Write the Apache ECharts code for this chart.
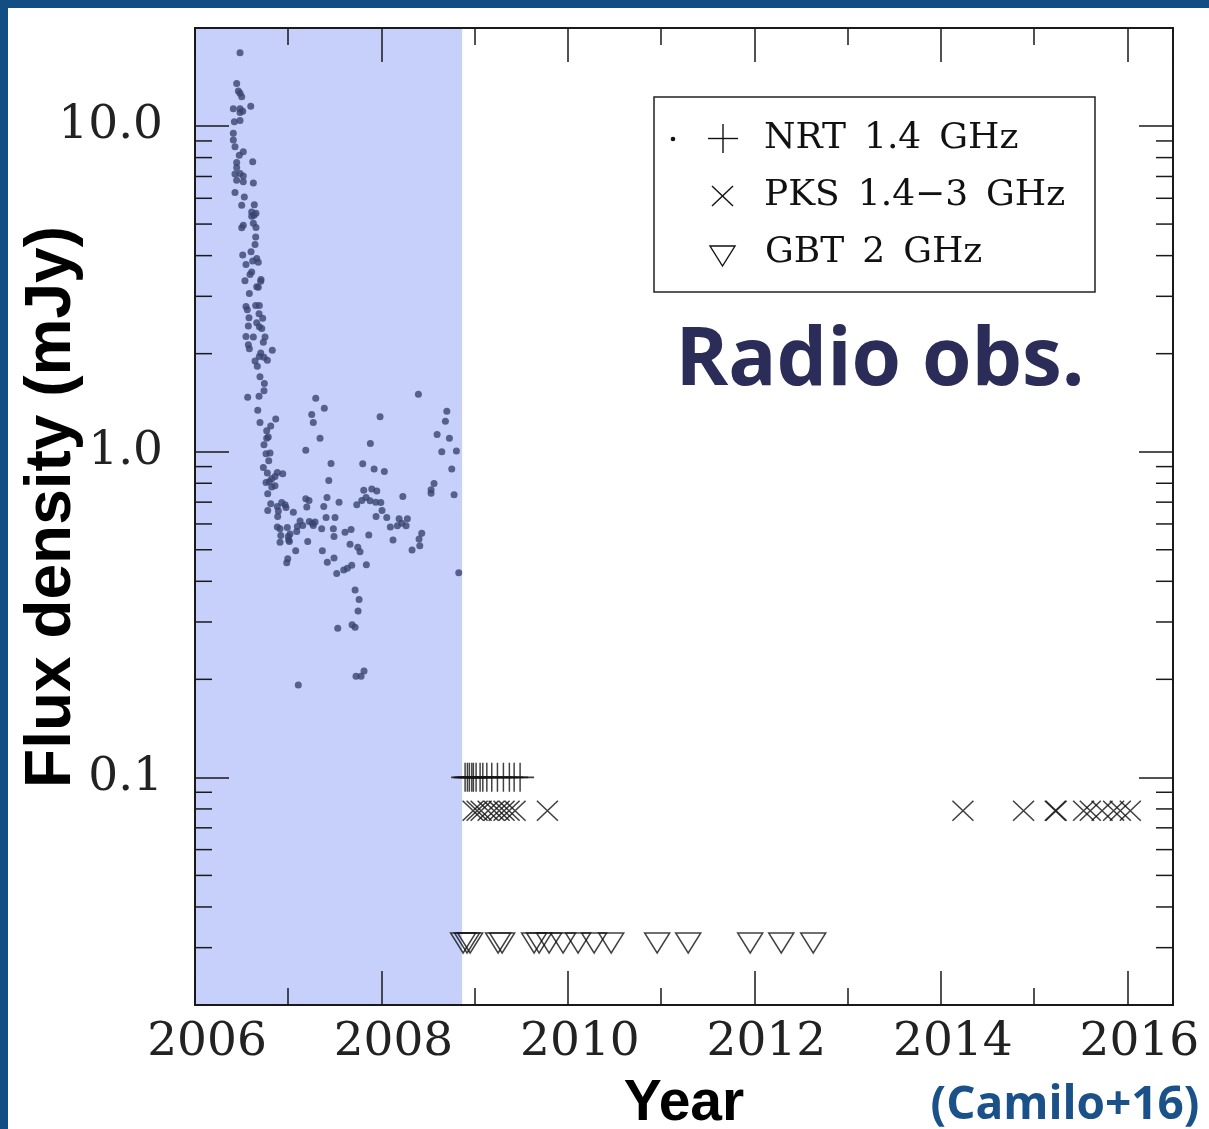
<!DOCTYPE html>
<html>
<head>
<meta charset="utf-8">
<title>Radio observations – flux density vs year</title>
<script src="https://cdn.jsdelivr.net/npm/echarts@6/dist/echarts.min.js"></script>
<style>
  html, body { margin: 0; padding: 0; background: #ffffff; }
  #chart { width: 1209px; height: 1129px; }
</style>
</head>
<body>
<div id="chart"></div>
<script>
// NRT 1.4 GHz detections: [decimal year, flux density in mJy]
const nrtDetections = [
  [2006.483,16.8],[2006.447,13.5],[2006.465,12.8],[2006.483,12.6],[2006.501,12.3],[2006.411,11.3],[2006.483,11.3],[2006.512,11.1],[2006.483,11.0],[2006.598,11.5],
  [2006.422,10.3],[2006.483,10.4],[2006.411,9.5],[2006.411,9.06],[2006.429,8.64],[2006.475,8.14],[2006.518,8.34],[2006.619,7.77],[2006.447,7.73],[2006.447,7.46],
  [2006.429,7.12],[2006.483,7.15],[2006.518,7.03],[2006.447,6.82],[2006.518,6.74],[2006.626,6.68],[2006.429,6.25],[2006.529,6.06],[2006.501,5.71],[2006.636,5.73],
  [2006.608,5.45],[2006.654,5.40],[2006.608,5.28],[2006.633,5.32],[2006.518,4.96],[2006.501,4.87],[2006.626,5.03],[2006.654,4.88],[2006.651,4.56],[2006.644,4.33],
  [2006.512,4.02],[2006.601,4.11],[2006.662,3.92],[2006.619,3.85],[2006.679,3.82],[2006.547,3.76],[2006.608,3.56],[2006.590,3.50],[2006.708,3.38],[2006.536,3.35],
  [2006.705,3.34],[2006.679,3.20],[2006.662,3.21],[2006.583,3.06],[2006.547,2.79],[2006.561,2.73],[2006.651,2.81],[2006.690,2.81],[2006.687,2.65],[2006.579,2.58],
  [2006.726,2.57],[2006.662,2.49],[2006.690,2.42],[2006.716,2.39],[2006.572,2.43],[2006.547,2.26],[2006.626,2.25],[2006.751,2.25],[2006.733,2.17],[2006.572,2.13],
  [2006.583,2.07],[2006.829,2.05],[2006.705,2.01],[2006.690,1.96],[2006.644,1.90],[2006.740,1.95],[2006.776,1.91],[2006.668,1.83],[2006.697,1.70],[2006.744,1.62],
  [2006.740,1.54],[2006.565,1.47],[2006.687,1.48],[2007.295,1.46],[2007.387,1.36],[2006.673,1.34],[2007.252,1.30],[2007.269,1.23],[2006.866,1.26],[2006.697,1.23],
  [2006.812,1.20],[2006.769,1.16],[2006.786,1.11],[2006.769,1.10],[2007.341,1.10],[2006.740,1.05],[2007.188,1.01],[2006.762,0.986],[2006.805,0.99],[2006.791,0.938],
  [2007.459,0.92],[2006.733,0.895],[2006.776,0.860],[2006.883,0.864],[2006.941,0.856],[2006.858,0.839],[2006.823,0.826],[2006.762,0.804],[2006.858,0.786],[2006.823,0.779],
  [2006.797,0.810],[2007.435,0.816],[2006.780,0.743],[2007.188,0.717],[2007.223,0.708],[2007.199,0.676],[2007.416,0.723],[2007.545,0.700],[2006.812,0.692],[2006.780,0.660],
  [2006.883,0.679],[2006.930,0.698],[2006.966,0.687],[2006.976,0.674],[2006.894,0.658],[2006.887,0.632],[2007.055,0.652],[2007.381,0.679],[2007.406,0.628],[2007.502,0.628],
  [2007.127,0.613],[2007.156,0.593],[2007.098,0.589],[2007.226,0.610],[2007.259,0.603],[2007.288,0.608],[2007.269,0.593],[2007.359,0.580],[2007.484,0.580],[2006.883,0.587],
  [2006.912,0.580],[2006.990,0.585],[2007.019,0.559],[2007.001,0.549],[2006.920,0.553],[2007.091,0.569],[2007.005,0.536],[2006.912,0.527],[2007.491,0.549],[2007.209,0.530],
  [2007.080,0.496],[2007.366,0.496],[2007.419,0.458],[2007.491,0.472],[2006.995,0.469],[2006.984,0.456],[2007.520,0.423],[2007.012,0.530],[2007.531,0.287],[2007.108,0.192],
  [2008.396,1.50],[2007.985,1.28],[2008.701,1.33],[2008.686,1.24],[2008.597,1.13],[2008.729,1.10],[2008.647,1.00],[2008.804,1.005],[2007.881,1.06],[2007.799,0.918],
  [2007.921,0.885],[2008.031,0.870],[2008.754,0.885],[2008.564,0.799],[2008.532,0.764],[2008.532,0.746],[2007.810,0.762],[2007.896,0.768],[2007.950,0.757],[2008.229,0.729],
  [2008.779,0.737],[2007.835,0.723],[2007.789,0.708],[2007.735,0.687],[2007.878,0.707],[2007.939,0.700],[2007.993,0.698],[2008.006,0.660],[2007.942,0.632],[2008.057,0.628],
  [2008.189,0.622],[2008.278,0.622],[2008.218,0.603],[2008.171,0.592],[2008.264,0.592],[2008.095,0.587],[2007.609,0.566],[2007.674,0.577],[2007.864,0.555],[2008.432,0.562],
  [2008.403,0.539],[2008.411,0.514],[2008.328,0.499],[2008.124,0.536],[2007.663,0.520],[2007.746,0.509],[2007.770,0.493],[2007.681,0.448],[2007.634,0.439],[2007.595,0.433],
  [2007.838,0.450],[2008.829,0.425],[2007.717,0.376],[2007.760,0.352],[2007.749,0.324],[2007.685,0.294],[2007.717,0.289],[2007.727,0.2045],[2007.781,0.2045],[2007.813,0.212]
];

// Non-detections (upper limits) – epochs per telescope and the limit in mJy
const nrtLimitYears = [2008.897, 2008.922, 2008.943, 2008.969, 2008.986, 2009.015, 2009.058, 2009.087,
                       2009.130, 2009.183, 2009.244, 2009.308, 2009.372, 2009.423, 2009.487];
const nrtLimit = 0.1;

const pksLimitYears = [2008.983, 2009.026, 2009.069, 2009.144, 2009.208, 2009.262, 2009.315, 2009.369,
                       2009.433, 2009.780, 2014.237, 2014.887, 2015.227, 2015.237, 2015.531, 2015.603,
                       2015.729, 2015.853, 2015.925, 2016.032];
const pksLimit = 0.079;

const gbtLimitYears = [2008.876, 2008.918, 2008.951, 2009.251, 2009.294, 2009.637, 2009.691, 2009.798,
                       2009.948, 2010.109, 2010.281, 2010.464, 2010.957, 2011.290, 2011.955, 2012.288, 2012.631];
const gbtLimit = 0.031;

// Period covered by the shaded band (active phase)
const activeSpan = [2006.0, 2008.865];

// Axis extents and tick labels
const yearMin = 2006;
const yearMax = 2016.49;
const fluxMin = 0.02;
const fluxMax = 20;
const xTickLabels = ['2006', '2008', '2010', '2012', '2014', '2016'];
const yTickLabels = { '0.1': '0.1', '1': '1.0', '10': '10.0' };
const logMinorTicks = [0.02, 0.03, 0.04, 0.05, 0.06, 0.07, 0.08, 0.09,
                       0.2, 0.3, 0.4, 0.5, 0.6, 0.7, 0.8, 0.9,
                       2, 3, 4, 5, 6, 7, 8, 9];

const INK = '#1a1a1a';
const TICK_FONT = { fontFamily: 'DejaVu Serif', fontSize: 47, color: '#222' };

const chart = echarts.init(document.getElementById('chart'), null, { renderer: 'canvas' });

const PLUS = 'path://M10,0L10,20M0,10L20,10';
const CROSS = 'path://M0,0L20,20M20,0L0,20';

function bottomTopAxis(position, interval, tickLen, withLabels) {
  return {
    type: 'value', position, min: yearMin, max: yearMax, interval,
    z: 5,
    axisLine: { show: true, lineStyle: { color: INK, width: 2 } },
    axisTick: { show: true, inside: true, length: tickLen, lineStyle: { color: INK, width: 1.5 } },
    splitLine: { show: false },
    axisLabel: withLabels ? {
      show: true, margin: 14, padding: [0, 0, 0, 24],
      showMaxLabel: false,
      ...TICK_FONT,
      formatter: (v, i) => xTickLabels[i] || ''
    } : { show: false }
  };
}

function logAxis(position, withLabels) {
  return {
    type: 'log', logBase: 10, position, min: fluxMin, max: fluxMax,
    z: 5,
    axisLine: { show: true, lineStyle: { color: INK, width: 2 } },
    axisTick: { show: true, inside: true, length: 34, lineStyle: { color: INK, width: 1.5 } },
    splitLine: { show: false },
    minorTick: { show: false },
    axisLabel: withLabels ? {
      show: true, margin: 32, showMinLabel: false, showMaxLabel: false,
      ...TICK_FONT,
      formatter: v => yTickLabels[String(+v.toPrecision(3))] || ''
    } : { show: false }
  };
}

const option = {
  backgroundColor: '#ffffff',
  animation: false,
  grid: { left: 195, right: 36, top: 28, bottom: 124, containLabel: false },
  xAxis: [
    bottomTopAxis('bottom', 2, 34, true),
    bottomTopAxis('bottom', 1, 17, false),
    bottomTopAxis('top', 2, 34, false),
    bottomTopAxis('top', 1, 17, false)
  ],
  yAxis: [
    logAxis('left', true),
    logAxis('right', false)
  ],
  series: [
    {
      name: 'NRT 1.4 GHz',
      type: 'scatter',
      xAxisIndex: 0, yAxisIndex: 0,
      symbol: 'circle', symbolSize: 7,
      itemStyle: { color: '#3a4470' },
      emphasis: { disabled: true },
      silent: true,
      z: 3,
      data: nrtDetections,
      markArea: {
        silent: true,
        itemStyle: { color: '#c6d0fb', opacity: 1 },
        data: [[{ xAxis: activeSpan[0], yAxis: fluxMin }, { xAxis: activeSpan[1], yAxis: fluxMax }]]
      }
    },
    {
      name: 'NRT 1.4 GHz limits',
      type: 'scatter',
      xAxisIndex: 0, yAxisIndex: 0,
      symbol: PLUS, symbolSize: [28, 29],
      itemStyle: { color: 'rgba(0,0,0,0)', borderColor: '#111', borderWidth: 1.5 },
      emphasis: { disabled: true }, silent: true, z: 4,
      data: nrtLimitYears.map(y => [y, nrtLimit])
    },
    {
      name: 'PKS 1.4–3 GHz limits',
      type: 'scatter',
      xAxisIndex: 0, yAxisIndex: 0,
      symbol: CROSS, symbolSize: [21, 20],
      itemStyle: { color: 'rgba(0,0,0,0)', borderColor: '#111', borderWidth: 1.5 },
      emphasis: { disabled: true }, silent: true, z: 4,
      data: pksLimitYears.map(y => [y, pksLimit])
    },
    {
      name: 'GBT 2 GHz limits',
      type: 'scatter',
      xAxisIndex: 0, yAxisIndex: 0,
      symbol: 'triangle', symbolRotate: 180, symbolSize: [25, 20],
      itemStyle: { color: 'rgba(0,0,0,0)', borderColor: '#111', borderWidth: 1.5 },
      emphasis: { disabled: true }, silent: true, z: 4,
      data: gbtLimitYears.map(y => [y, gbtLimit])
    },
    {
      // decade sub-divisions (2..9) on the left and right log axes
      name: 'log minor ticks',
      type: 'custom',
      xAxisIndex: 0, yAxisIndex: 0,
      silent: true, clip: false, z: 6,
      data: logMinorTicks.map(v => [yearMin, v]),
      renderItem: (params, api) => {
        const v = api.value(1);
        const l = api.coord([yearMin, v]);
        const r = api.coord([yearMax, v]);
        const style = { stroke: INK, lineWidth: 1.5 };
        return {
          type: 'group',
          children: [
            { type: 'line', shape: { x1: l[0], y1: l[1], x2: l[0] + 17, y2: l[1] }, style },
            { type: 'line', shape: { x1: r[0] - 17, y1: r[1], x2: r[0], y2: r[1] }, style }
          ]
        };
      }
    }
  ],
  graphic: [
    // slide frame
    { type: 'rect', left: 0, top: 0, shape: { width: 1209, height: 8 }, style: { fill: '#124e84' }, silent: true },
    { type: 'rect', left: 0, top: 0, shape: { width: 8, height: 1129 }, style: { fill: '#124e84' }, silent: true },

    // axis titles and annotations
    { type: 'text', x: 52, y: 507, rotation: Math.PI / 2, silent: true,
      style: { text: 'Flux density (mJy)', fontFamily: 'Liberation Sans', fontWeight: 'bold', fontSize: 64,
               fill: '#000', align: 'center', verticalAlign: 'middle' } },
    { type: 'text', x: 684, y: 1104, silent: true,
      style: { text: 'Year', fontFamily: 'Liberation Sans', fontWeight: 'bold', fontSize: 57,
               fill: '#000', align: 'center', verticalAlign: 'middle' } },
    { type: 'text', x: 880, y: 362, silent: true,
      style: { text: 'Radio obs.', fontFamily: 'Open Sans', fontWeight: 'bold', fontSize: 80,
               fill: '#2b2c58', align: 'center', verticalAlign: 'middle' } },
    { type: 'text', x: 1065, y: 1106, silent: true,
      style: { text: '(Camilo+16)', fontFamily: 'Open Sans', fontWeight: 'bold', fontSize: 46,
               fill: '#1a5189', align: 'center', verticalAlign: 'middle' } },

    // legend box
    { type: 'rect', shape: { x: 654, y: 97, width: 441, height: 195 }, silent: true, z: 10,
      style: { fill: '#ffffff', stroke: '#222', lineWidth: 1.5 } },
    { type: 'circle', shape: { cx: 673, cy: 139, r: 2.3 }, silent: true, z: 11, style: { fill: '#111' } },
    { type: 'polyline', shape: { points: [[723, 124], [723, 153]] }, silent: true, z: 11, style: { stroke: '#111', lineWidth: 1.4 } },
    { type: 'polyline', shape: { points: [[708, 138.5], [738, 138.5]] }, silent: true, z: 11, style: { stroke: '#111', lineWidth: 1.4 } },
    { type: 'polyline', shape: { points: [[712, 186], [733, 206]] }, silent: true, z: 11, style: { stroke: '#111', lineWidth: 1.4 } },
    { type: 'polyline', shape: { points: [[733, 186], [712, 206]] }, silent: true, z: 11, style: { stroke: '#111', lineWidth: 1.4 } },
    { type: 'polygon', shape: { points: [[710, 246], [735, 246], [722.5, 266]] }, silent: true, z: 11,
      style: { fill: 'none', stroke: '#111', lineWidth: 1.4 } },
    { type: 'text', x: 764, y: 139, silent: true, z: 11,
      style: { text: 'NRT\u20021.4\u2002GHz', fontFamily: 'DejaVu Serif', fontSize: 36, fill: '#111', verticalAlign: 'middle' } },
    { type: 'text', x: 764, y: 196, silent: true, z: 11,
      style: { text: 'PKS\u20021.4\u22123\u2002GHz', fontFamily: 'DejaVu Serif', fontSize: 36, fill: '#111', verticalAlign: 'middle' } },
    { type: 'text', x: 765, y: 253, silent: true, z: 11,
      style: { text: 'GBT\u20022\u2002GHz', fontFamily: 'DejaVu Serif', fontSize: 36, fill: '#111', verticalAlign: 'middle' } }
  ]
};

chart.setOption(option);
</script>
</body>
</html>
